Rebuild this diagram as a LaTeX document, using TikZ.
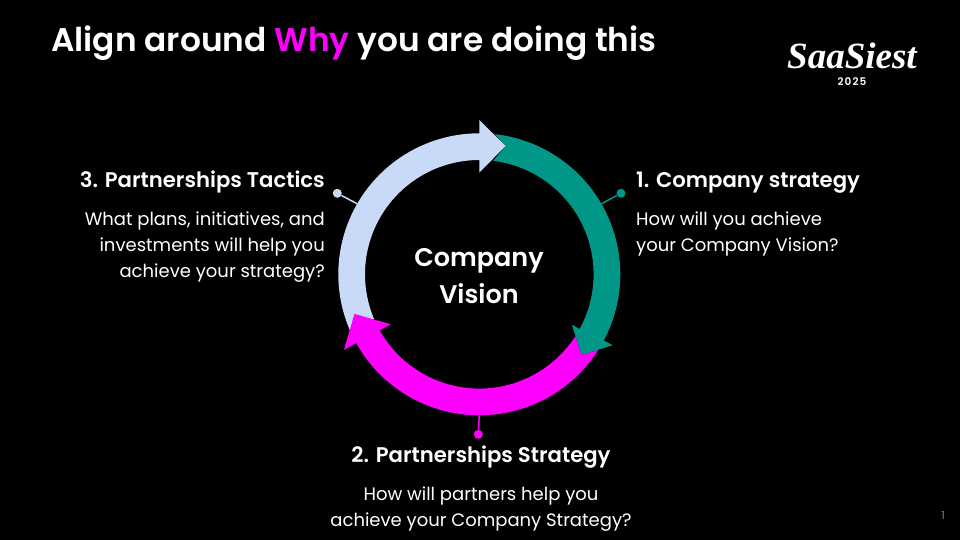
\documentclass[tikz,border=0pt]{standalone}
\usepackage{fontspec}
\setmainfont{Poppins}
\newfontfamily\semifont{Poppins SemiBold}
\newfontfamily\logofont{Liberation Serif}
\newfontfamily\yearfont[LetterSpace=10]{Poppins SemiBold}
\usetikzlibrary{positioning}

\definecolor{ringteal}{HTML}{009688}
\definecolor{ringpink}{HTML}{FF00FF}
\definecolor{ringblue}{HTML}{C9DAF8}

\begin{document}
\begin{tikzpicture}[ x = 1pt
                     , y = 1pt
                     , node distance = 10pt and 10pt
                     , every node/.style = { inner sep = 0pt
                                         , text = white }
                     ]

  \tikzset{ titletext/.style={font=\fontsize{32.8}{38}\selectfont\semifont}
          , headtext/.style={font=\fontsize{21.2}{26}\selectfont\semifont}
          , bodytext/.style={font=\fontsize{18}{26}\selectfont}
          , pin/.style={circle, minimum size=9pt}
          }

  \fill[black] (0,0) rectangle (960,540);
  \useasboundingbox (0,0) rectangle (960,540);

  %%
  %% Ring
  %%
  \begin{scope}[shift={(479.3,265.7)}]
    \fill[ringteal] (83.6:141) arc (83.6:-28:141) -- (-28:151) -- (-38.3:130.3)
                    -- (-28.6:105.5) -- (-28.6:114.3) arc (-28.6:83:114.3)
                    -- (78.4:131) -- cycle;
    \fill[ringblue] (203.4:141) arc (203.4:90:141) -- (90:154.3) -- (78.4:131)
                    -- (90:101.7) -- (90:114.3) arc (90:203:114.3) -- cycle;
    \fill[ringpink] (-32.4:141) arc (-32.4:-150.8:141) -- (209.2:155) -- (197.6:131)
                    -- (209.4:101.8) -- (209.4:114.3) arc (-150.6:-32.8:114.3)
                    -- (-38.3:130.3) -- cycle;
    \coordinate (tealend) at (30:141);
    \coordinate (blueend) at (150:141);
    \coordinate (pinkend) at (-90:141);
  \end{scope}

  %%
  %% Nodes
  %%
  \node (title) [titletext, anchor=base west] at (51,488)
        {Align around \textcolor{ringpink}{Why} you are doing this};
  \node (vision) [align=center, font=\fontsize{25.5}{37}\selectfont\semifont] at (479,264)
        {Company\\Vision};

  \node (stratA) [headtext, anchor=base west] at (636,352) {1. Company strategy};
  \node (stratB) [headtext, anchor=base] at (481,77) {2. Partnerships Strategy};
  \node (stratC) [headtext, anchor=base east] at (325,352) {3. Partnerships Tactics};

  \node (bodyA) [bodytext, align=left, below = 18pt of stratA.south west, anchor=north west]
        {How will you achieve\\your Company Vision?};
  \node (bodyB) [bodytext, align=center, below = 18pt of stratB.south, anchor=north]
        {How will partners help you\\achieve your Company Strategy?};
  \node (bodyC) [bodytext, align=right, below = 18pt of stratC.south east, anchor=north east]
        {What plans, initiatives, and\\investments will help you\\achieve your strategy?};

  \node (pinA) [pin, fill=ringteal] at (621,346.7) {};
  \node (pinB) [pin, fill=ringpink] at (478.3,105.7) {};
  \node (pinC) [pin, fill=ringblue] at (337.3,346.7) {};

  \node (logo) [font=\fontsize{37}{39}\selectfont\logofont\bfseries\itshape] at (852,484) {SaaSiest};
  \node (year) [font=\fontsize{10.5}{12}\selectfont\yearfont, below = 8pt of logo] {2025};
  \node (page) [text=gray, font=\fontsize{11}{13}\selectfont] at (943,24.5) {1};

  %%
  %% Connectors
  %%
  \draw[ringteal, line width=1.5pt] (pinA) -- (tealend);
  \draw[ringpink, line width=1.5pt] (pinB) -- (pinkend);
  \draw[ringblue, line width=1.5pt] (pinC) -- (blueend);
\end{tikzpicture}
\end{document}
